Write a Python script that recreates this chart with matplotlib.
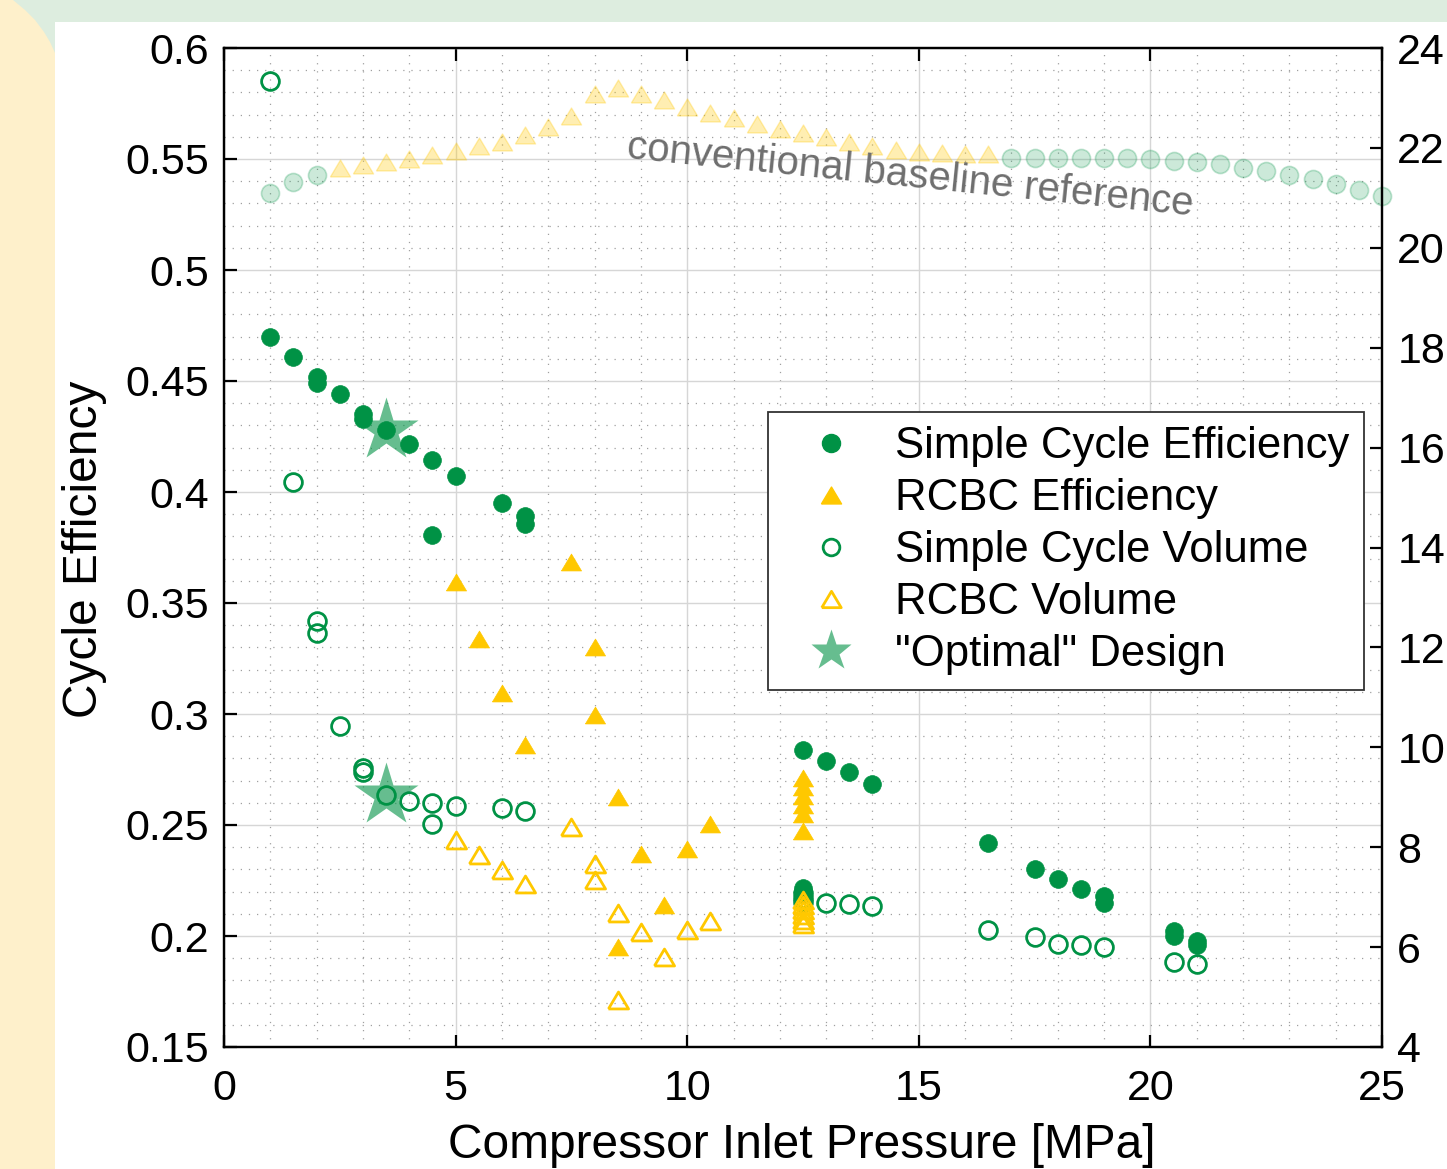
import matplotlib
matplotlib.use("Agg")
import matplotlib.pyplot as plt
from matplotlib.lines import Line2D
from matplotlib.patches import Polygon, Rectangle
from matplotlib.ticker import MultipleLocator, FixedLocator
import numpy as np

plt.rcParams['font.family'] = ['Liberation Sans', 'DejaVu Sans']

# ---------------- data ----------------
x_sc_eff = [1, 1.5, 2, 2, 2.5, 3, 3, 3.5, 4, 4.5, 4.5, 5, 6, 6.5, 6.5,
            12.5, 12.5, 12.5, 13, 13.5, 14, 16.5, 17.5, 18, 18.5, 19, 19,
            20.5, 20.5, 21, 21]
y_sc_eff = [0.470, 0.461, 0.452, 0.449, 0.444, 0.435, 0.433, 0.428, 0.4216,
            0.4144, 0.3806, 0.407, 0.395, 0.389, 0.3856,
            0.2838, 0.2215, 0.2195, 0.279, 0.274, 0.2683, 0.2418, 0.2302,
            0.2257, 0.2212, 0.2178, 0.2147, 0.2024, 0.2001, 0.1979, 0.196]

x_rcbc_eff = [5, 5.5, 6, 6.5, 7.5, 8, 8, 8.5, 8.5, 9, 9.5, 10, 10.5,
              12.5, 12.5, 12.5, 12.5, 12.5, 12.5]
y_rcbc_eff = [0.3595, 0.334, 0.3095, 0.286, 0.3685, 0.330, 0.2995, 0.2626,
              0.195, 0.237, 0.214, 0.239, 0.2503,
              0.2713, 0.267, 0.263, 0.259, 0.255, 0.2472]

x_sc_vol = [1, 1.5, 2, 2, 2.5, 3, 3, 3.5, 4, 4.5, 4.5, 5, 6, 6.5,
            12.5, 12.5, 12.5, 13, 13.5, 14, 16.5, 17.5, 18, 18.5, 19, 20.5, 21]
y_sc_vol = [23.34, 15.32, 12.53, 12.29, 10.43, 9.59, 9.51, 9.05, 8.92, 8.88,
            8.46, 8.82, 8.79, 8.72, 7.08, 6.98, 6.90, 6.89, 6.86, 6.82,
            6.34, 6.20, 6.06, 6.04, 6.00, 5.71, 5.66]

x_rcbc_vol = [5, 5.5, 6, 6.5, 7.5, 8, 8, 8.5, 8.5, 9, 9.5, 10, 10.5,
              12.5, 12.5, 12.5, 12.5, 12.5, 12.5]
y_rcbc_vol = [8.15, 7.84, 7.55, 7.26, 8.40, 7.67, 7.34, 6.69, 4.95, 6.30,
              5.80, 6.34, 6.52, 6.94, 6.84, 6.74, 6.64, 6.54, 6.46]

x_opt = [3.5]
y_opt_eff = [0.428]
y_opt_vol = [9.04]

# faded "conventional baseline reference"
x_base_c1 = [1, 1.5, 2]
y_base_c1 = [0.5348, 0.5398, 0.5428]
x_base_t = [2.5, 3, 3.5, 4, 4.5, 5, 5.5, 6, 6.5, 7, 7.5, 8, 8.5, 9, 9.5,
            10, 10.5, 11, 11.5, 12, 12.5, 13, 13.5, 14, 14.5, 15, 15.5, 16, 16.5]
y_base_t = [0.5460, 0.5473, 0.5488, 0.5498, 0.5518, 0.5538, 0.5559, 0.5578,
            0.5608, 0.5646, 0.5694, 0.5793, 0.5818, 0.5791, 0.5766, 0.5736,
            0.5706, 0.5683, 0.5656, 0.5635, 0.5616, 0.5598, 0.5578, 0.5559,
            0.5541, 0.5533, 0.5525, 0.5524, 0.5522]
x_base_c2 = [17, 17.5, 18, 18.5, 19, 19.5, 20, 20.5, 21, 21.5, 22, 22.5,
             23, 23.5, 24, 24.5, 25]
y_base_c2 = [0.5506, 0.5506, 0.5506, 0.5506, 0.5506, 0.5504, 0.5500, 0.5492,
             0.5485, 0.5476, 0.5461, 0.5447, 0.5430, 0.5410, 0.5388, 0.5362,
             0.5335]

x_ticks = [0, 5, 10, 15, 20, 25]
y_ticks = [0.15, 0.2, 0.25, 0.3, 0.35, 0.4, 0.45, 0.5, 0.55, 0.6]
y_ticklabels = ['0.15', '0.2', '0.25', '0.3', '0.35', '0.4', '0.45', '0.5', '0.55', '0.6']
y2_ticks = [4, 6, 8, 10, 12, 14, 16, 18, 20, 22, 24]

labels = ['Simple Cycle Efficiency', 'RCBC Efficiency', 'Simple Cycle Volume',
          'RCBC Volume', '"Optimal" Design']
annot = 'conventional baseline reference'

# ---------------- style ----------------
GREEN = '#009245'
YELLOW = '#FFC800'
W, H = 1447, 1169
fig = plt.figure(figsize=(W / 100, H / 100), dpi=100)
fig.patch.set_facecolor('#DDEDDF')

def fpt(px, py):
    return (px / W, 1 - py / H)

beige = Polygon([fpt(0, 0), fpt(13, 0), fpt(25, 10), fpt(35, 20), fpt(44, 32),
                 fpt(50, 42), fpt(55, 53), fpt(55, H), fpt(0, H)],
                closed=True, transform=fig.transFigure, facecolor='#FEF0CB',
                edgecolor='none', zorder=-10)
fig.patches.append(beige)
white = Rectangle(fpt(55, H), (W - 55) / W, (H - 22) / H, transform=fig.transFigure,
                  facecolor='white', edgecolor='none', zorder=-9)
fig.patches.append(white)

ax = fig.add_axes([224 / W, 1 - 1047 / H, (1382 - 224) / W, (1047 - 48) / H])
ax.set_facecolor('none')
ax2 = ax.twinx()
ax2.set_facecolor('none')

ax.set_xlim(0, 25)
ax.set_ylim(0.15, 0.6)
ax2.set_ylim(4, 24)

ax.xaxis.set_major_locator(FixedLocator(x_ticks))
ax.xaxis.set_minor_locator(MultipleLocator(1))
ax.yaxis.set_major_locator(FixedLocator(y_ticks))
ax.yaxis.set_minor_locator(MultipleLocator(0.01))
ax.set_yticklabels(y_ticklabels)
ax2.yaxis.set_major_locator(FixedLocator(y2_ticks))

ax.grid(which='major', color='#d6d6d6', lw=1.0, zorder=0)
ax.grid(which='minor', color='#a0a0a0', lw=0.9, ls=(0, (1, 5.5)), zorder=0)
ax.set_axisbelow(True)

ax.tick_params(which='major', direction='in', length=9, width=1.6,
               labelsize=31, top=True, right=False, pad=11)
ax.tick_params(axis='x', which='major', pad=16)
ax.tick_params(which='minor', length=0)
ax2.tick_params(which='major', direction='in', length=9, width=1.6,
                labelsize=31, pad=11)
for a in (ax, ax2):
    for s in a.spines.values():
        s.set_linewidth(1.6)
        s.set_color('black')

# custom triangle marker (wider than tall, like MATLAB)
tri = [(-1, -0.84), (1, -0.84), (0, 0.84), (-1, -0.84)]

# faded baseline
ax.plot(x_base_c1, y_base_c1, ls='none', marker='o', ms=13,
        mfc=(0, 0.573, 0.271, 0.2), mec=(0, 0.573, 0.271, 0.25), mew=1.2, clip_on=False)
ax.plot(x_base_t, y_base_t, ls='none', marker=tri, ms=14.5,
        mfc=(1, 0.784, 0, 0.3), mec=(1, 0.784, 0, 0.3), mew=1.0, clip_on=False)
ax.plot(x_base_c2, y_base_c2, ls='none', marker='o', ms=13,
        mfc=(0, 0.573, 0.271, 0.2), mec=(0, 0.573, 0.271, 0.25), mew=1.2, clip_on=False)
ax.text(14.81, 0.5423, annot, rotation=-5.8, rotation_mode='anchor',
        ha='center', va='center', fontsize=29, color='#6E6E6E')

# efficiency series (left axis)
ax.plot(x_sc_eff, y_sc_eff, ls='none', marker='o', ms=12.8, mfc=GREEN, mec=GREEN,
        mew=0.5, clip_on=False)
ax.plot(x_rcbc_eff, y_rcbc_eff, ls='none', marker=tri, ms=14.5, mfc=YELLOW, mec=YELLOW,
        mew=0.5, clip_on=False)
ax.plot(x_opt, y_opt_eff, ls='none', marker='*', ms=48, mfc=GREEN, mec='none',
        alpha=0.6, clip_on=False)

# volume series (right axis)
ax2.plot(x_sc_vol, y_sc_vol, ls='none', marker='o', ms=12.8, mfc='none', mec=GREEN,
         mew=2.0, clip_on=False)
ax2.plot(x_rcbc_vol, y_rcbc_vol, ls='none', marker=tri, ms=14.5, mfc='none', mec=YELLOW,
         mew=2.0, clip_on=False)
ax2.plot(x_opt, y_opt_vol, ls='none', marker='*', ms=48, mfc=GREEN, mec='none',
         alpha=0.6, clip_on=False)

# labels
fig.text(85 / W, 1 - 549 / H, 'Cycle Efficiency', rotation=90, ha='center',
         va='center', fontsize=34.5)
fig.text(802 / W, 1 - 1146 / H, 'Compressor Inlet Pressure [MPa]', ha='center',
         va='center', fontsize=34.5)

# legend
handles = [
    Line2D([], [], ls='none', marker='o', ms=13, mfc=GREEN, mec=GREEN),
    Line2D([], [], ls='none', marker=tri, ms=14.5, mfc=YELLOW, mec=YELLOW),
    Line2D([], [], ls='none', marker='o', ms=12, mfc='none', mec=GREEN, mew=2.0),
    Line2D([], [], ls='none', marker=tri, ms=14, mfc='none', mec=YELLOW, mew=2.0),
    Line2D([], [], ls='none', marker='*', ms=31, mfc=GREEN, mec='none', alpha=0.6),
]
leg = ax2.legend(handles, labels, loc='upper left',
                 bbox_to_anchor=((768 - 224) / 1158, 1 - (412 - 48) / 999),
                 borderaxespad=0, fontsize=31.5, frameon=True, fancybox=False,
                 framealpha=1, edgecolor='#333333', handlelength=2.2,
                 handletextpad=0.37, borderpad=0.33, labelspacing=0.25)
leg.get_frame().set_linewidth(1.3)

fig.savefig('out.png', dpi=100, facecolor=fig.get_facecolor())
